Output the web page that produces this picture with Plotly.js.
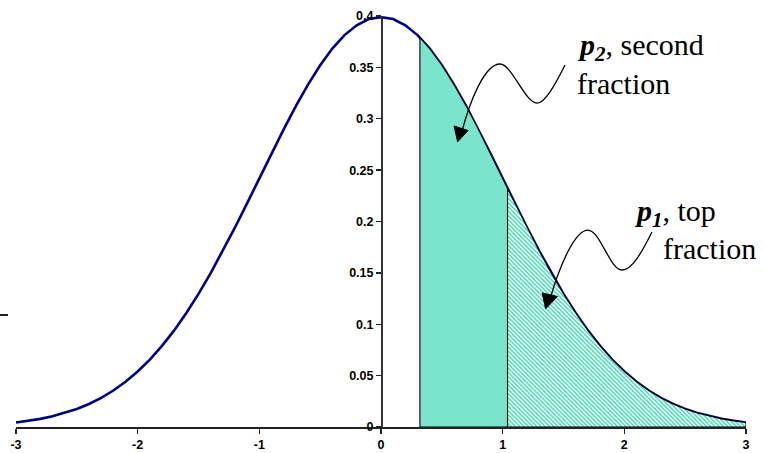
<!DOCTYPE html>
<html>
<head>
<meta charset="utf-8">
<script src="https://cdn.plot.ly/plotly-3.0.1.min.js"></script>
<style>
  html, body { margin: 0; padding: 0; background: #ffffff; }
  #chart { width: 765px; height: 453px; }
</style>
</head>
<body>
<div id="chart"></div>
<script>
// Standard normal density, sampled every 0.1 from -3 to 3
const zValues = [-3, -2.9, -2.8, -2.7, -2.6, -2.5, -2.4, -2.3, -2.2, -2.1, -2, -1.9, -1.8, -1.7, -1.6, -1.5,
                 -1.4, -1.3, -1.2, -1.1, -1, -0.9, -0.8, -0.7, -0.6, -0.5, -0.4, -0.3, -0.2, -0.1, 0,
                 0.1, 0.2, 0.3, 0.4, 0.5, 0.6, 0.7, 0.8, 0.9, 1, 1.1, 1.2, 1.3, 1.4, 1.5,
                 1.6, 1.7, 1.8, 1.9, 2, 2.1, 2.2, 2.3, 2.4, 2.5, 2.6, 2.7, 2.8, 2.9, 3];
const density = [0.0044, 0.0060, 0.0079, 0.0104, 0.0136, 0.0175, 0.0224, 0.0283, 0.0355, 0.0440,
                 0.0540, 0.0656, 0.0790, 0.0940, 0.1109, 0.1295, 0.1497, 0.1714, 0.1942, 0.2179,
                 0.2420, 0.2661, 0.2897, 0.3123, 0.3332, 0.3521, 0.3683, 0.3814, 0.3910, 0.3970,
                 0.3989,
                 0.3970, 0.3910, 0.3814, 0.3683, 0.3521, 0.3332, 0.3123, 0.2897, 0.2661, 0.2420,
                 0.2179, 0.1942, 0.1714, 0.1497, 0.1295, 0.1109, 0.0940, 0.0790, 0.0656, 0.0540,
                 0.0440, 0.0355, 0.0283, 0.0224, 0.0175, 0.0136, 0.0104, 0.0079, 0.0060, 0.0044];

// Cut points of the two selected fractions and the curve height there
const cutSecond = 0.32, heightSecond = 0.379;
const cutTop = 1.04, heightTop = 0.232;
const upperEnd = 3;

const xTickVals = [-3, -2, -1, 0, 1, 2, 3];
const xTickText = ['-3', '-2', '-1', '0', '1', '2', '3'];
const yTickVals = [0, 0.05, 0.1, 0.15, 0.2, 0.25, 0.3, 0.35, 0.4];
const yTickText = ['0', '0.05', '0.1', '0.15', '0.2', '0.25', '0.3', '0.35', '0.4'];

const bold = s => '<b>' + s + '</b>';

// Closed outline under the curve between two cut points
function band(x0, y0, x1, y1) {
  const xs = [x0, x0], ys = [0, y0];
  zValues.forEach((z, i) => {
    if (z > x0 + 1e-9 && z < x1 - 1e-9) { xs.push(z); ys.push(density[i]); }
  });
  xs.push(x1, x1, x0);
  ys.push(y1, 0, 0);
  return { xs, ys };
}

const second = band(cutSecond, heightSecond, cutTop, heightTop);
const tail = band(cutTop, heightTop, upperEnd, density[density.length - 1]);

const traces = [
  {
    x: zValues, y: density, type: 'scatter', mode: 'lines',
    line: { color: '#000080', width: 2.6 },
    hoverinfo: 'skip'
  },
  {
    x: second.xs, y: second.ys, type: 'scatter', mode: 'lines', fill: 'toself',
    fillcolor: '#7ae5cc',
    line: { color: '#000000', width: 1.1 },
    hoverinfo: 'skip'
  },
  {
    x: tail.xs, y: tail.ys, type: 'scatter', mode: 'lines', fill: 'toself',
    fillcolor: 'rgba(0,0,0,0)',
    fillpattern: { shape: '\\', fgcolor: '#45d9b2', bgcolor: '#ffffff', size: 3, solidity: 0.5 },
    line: { color: '#000000', width: 1.1 },
    hoverinfo: 'skip'
  }
];

// Wavy pointer lines (data units) ending in filled arrowheads
const wave2 = 'M1.512,0.3523 C1.430,0.3328 1.348,0.3153 1.282,0.3153 ' +
              'C1.183,0.3153 1.076,0.3533 0.978,0.3533 C0.855,0.3533 0.731,0.3182 0.662,0.2860';
const head2 = 'M0.630,0.2775 L0.600,0.2930 L0.716,0.2885 Z';
const wave1 = 'M2.227,0.1898 C2.145,0.1703 2.063,0.1528 1.980,0.1528 ' +
              'C1.882,0.1528 1.800,0.1917 1.701,0.1917 C1.594,0.1917 1.471,0.1577 1.390,0.1250';
const head1 = 'M1.353,0.1150 L1.325,0.1305 L1.450,0.1270 Z';

const serif = 'Liberation Serif, Times New Roman, serif';
const tickFont = { family: 'Liberation Sans, Arial, sans-serif', size: 12.5, color: '#000000', weight: 700 };

function label(x, y, text) {
  return {
    xref: 'x', yref: 'y', x: x, y: y, xanchor: 'left', yanchor: 'middle', align: 'left',
    showarrow: false, text: text, borderpad: 0,
    font: { family: serif, size: 30, color: '#000000' }
  };
}

const layout = {
  width: 765, height: 453,
  margin: { l: 16, r: 19, t: 16, b: 26 },
  paper_bgcolor: '#ffffff', plot_bgcolor: '#ffffff',
  showlegend: false,
  xaxis: {
    range: [-3, 3], tickvals: xTickVals, ticktext: xTickText.map(bold),
    showgrid: false, zeroline: false,
    showline: true, linecolor: '#222222', linewidth: 1.6,
    ticks: 'outside', ticklen: 5, tickwidth: 1.4, tickcolor: '#222222',
    tickfont: tickFont,
    fixedrange: true
  },
  yaxis: {
    range: [0, 0.4], tickvals: yTickVals, ticktext: yTickText.map(bold),
    anchor: 'free', position: 0.5,
    showgrid: false, zeroline: false,
    showline: true, linecolor: '#333333', linewidth: 1.8,
    ticks: 'outside', ticklen: 5, tickwidth: 1.4, tickcolor: '#222222',
    tickfont: tickFont,
    fixedrange: true
  },
  shapes: [
    { type: 'path', xref: 'x', yref: 'y', path: wave2, line: { color: '#000000', width: 1.3 } },
    { type: 'path', xref: 'x', yref: 'y', path: head2, fillcolor: '#000000', line: { color: '#000000', width: 1 } },
    { type: 'path', xref: 'x', yref: 'y', path: wave1, line: { color: '#000000', width: 1.3 } },
    { type: 'path', xref: 'x', yref: 'y', path: head1, fillcolor: '#000000', line: { color: '#000000', width: 1 } },
    { type: 'line', xref: 'paper', yref: 'paper', x0: -0.022, x1: -0.011, y0: 0.2725, y1: 0.2725,
      line: { color: '#222222', width: 2 } }
  ],
  annotations: [
    label(1.60, 0.370, '<b><i>p</i></b><sub><b><i>2</i></b></sub>, second'),
    label(1.60, 0.334, 'fraction'),
    label(2.07, 0.208, '<b><i>p</i></b><sub><b><i>1</i></b></sub>, top'),
    label(2.31, 0.174, 'fraction')
  ]
};

Plotly.newPlot('chart', traces, layout, { staticPlot: true, displayModeBar: false });
</script>
</body>
</html>
